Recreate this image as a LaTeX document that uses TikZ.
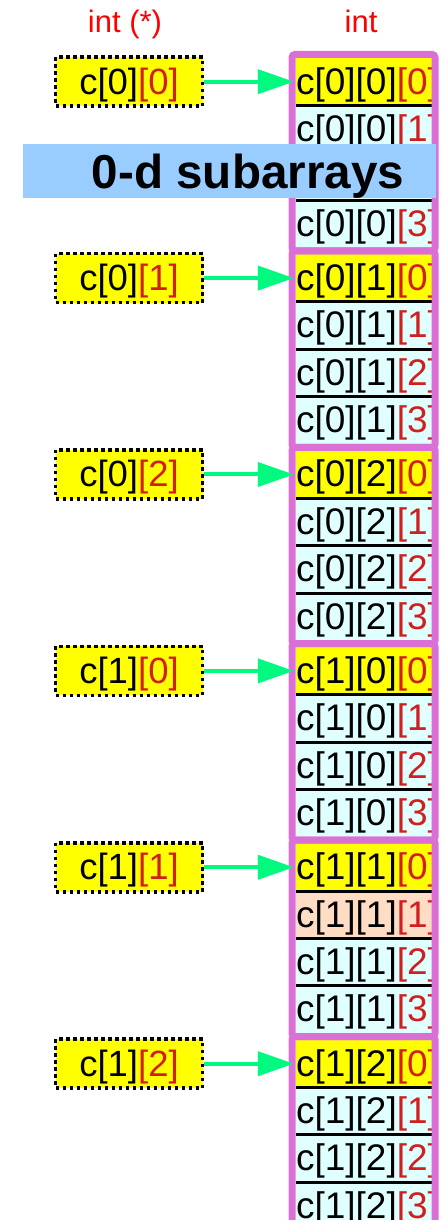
\documentclass[tikz,border=0pt]{standalone}
\usepackage{fontspec}
\setmainfont{Liberation Sans}
\usepackage{xcolor}
\usetikzlibrary{positioning,arrows.meta}
\definecolor{cellyellow}{RGB}{255,255,0}
\definecolor{cellcyan}{RGB}{224,255,255}
\definecolor{cellorange}{RGB}{255,221,196}
\definecolor{framepink}{RGB}{218,112,214}
\definecolor{arrowgreen}{RGB}{0,250,128}
\definecolor{idxred}{RGB}{210,30,30}
\definecolor{hdrred}{RGB}{255,0,0}
\definecolor{bannerblue}{RGB}{153,204,255}

\begin{document}
\begin{tikzpicture}[
        x=1pt, y=-1pt,
        cell/.style={rectangle, minimum height=47.35pt, text width=136pt, inner sep=0pt,
                     align=left, text height=30pt, text depth=5pt, font=\fontsize{37}{40}\selectfont},
        cellsep/.style={line width=3pt, black},
        groupframe/.style={draw=framepink, line width=7pt, rounded corners=3pt},
        pointer/.style={rectangle, draw=black, fill=cellyellow, line width=3.5pt,
                        dash pattern=on 3.5pt off 3.5pt, minimum width=147pt, minimum height=49pt,
                        inner sep=0pt, text height=30pt, text depth=5pt,
                        font=\fontsize{36.5}{40}\selectfont},
        arrow/.style={-{Triangle[length=36pt,width=24pt]}, line width=4pt, arrowgreen, shorten >=2pt},
        header/.style={anchor=base, text=hdrred, font=\fontsize{31}{34}\selectfont},
        banner/.style={rectangle, fill=bannerblue, minimum width=413pt, minimum height=54pt, inner sep=0pt},
        bannertext/.style={anchor=base, font=\bfseries\fontsize{47.6}{50}\selectfont}
    ]
        \useasboundingbox (0,0) rectangle (442,1220);

        % Spaltenkoepfe
        \node[header] (hptr) at (125,33) {int (*)};
        \node[header] (hint) at (361,33) {int};

        % Zellen des Arrays c[2][3][4]
        \begin{scope}
            \clip (296,0) rectangle (432,1220);
            \foreach \i in {0,1} \foreach \j in {0,1,2} \foreach \k in {0,...,3} {
                \pgfmathsetmacro\cy{54.5+196.4*(3*\i+\j)+3.5+47.35*(\k+0.5)}
                \def\cellfill{cellcyan}
                \ifnum\k=0 \def\cellfill{cellyellow}\fi
                \ifnum\i\j\k=111 \def\cellfill{cellorange}\fi
                \node[cell, fill=\cellfill] (c\i\j\k) at (364,\cy) {c[\i][\j]\textcolor{idxred}{[\k]}};
            }
            \foreach \i in {0,1} \foreach \j in {0,1,2} \foreach \k in {0,1,2} {
                \draw[cellsep] (c\i\j\k.south west) -- (c\i\j\k.south east);
            }
        \end{scope}

        % Rahmen je Teilarray
        \foreach \g in {0,...,5} {
            \draw[groupframe] (292,{54.5+196.4*\g}) rectangle (435,{54.5+196.4*(\g+1)});
        }

        % Zeiger
        \coordinate (leftcol) at (129,0);
        \foreach \i in {0,1} \foreach \j in {0,1,2} {
            \node[pointer] (p\i\j) at (leftcol |- c\i\j0) {c[\i]\textcolor{idxred}{[\j]}};
            \draw[arrow] (p\i\j) -- (c\i\j0.west);
        }

        % Beschriftung
        \node[banner] (bannerbox) at (229.5,171) {};
        \node[bannertext] (bannertitle) at (248,188) {0-d subarrays};
    \end{tikzpicture}
\end{document}
